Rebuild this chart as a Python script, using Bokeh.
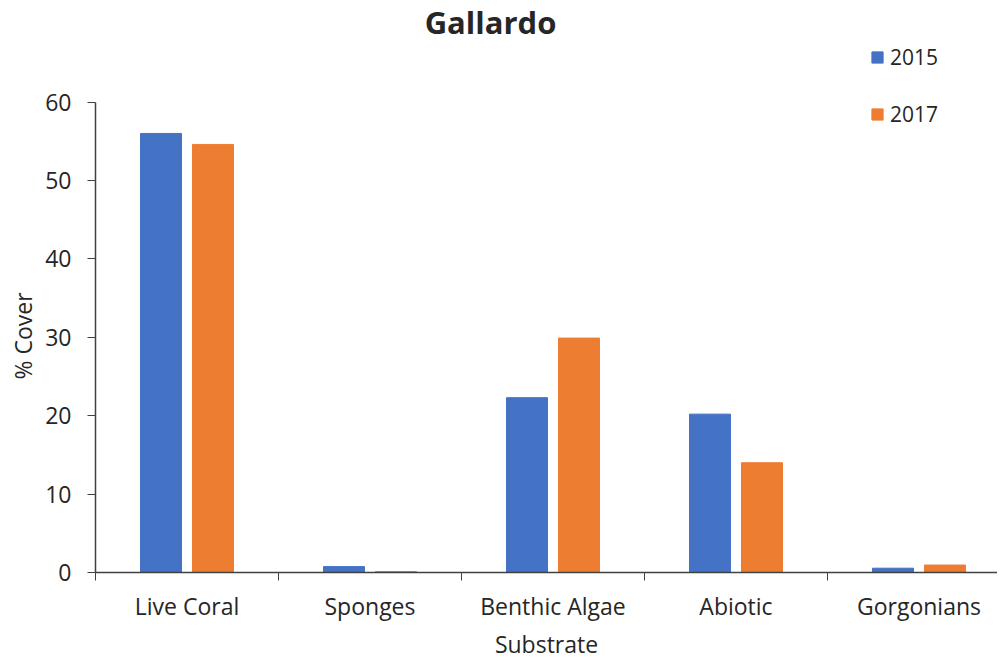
import numpy as np
from bokeh.plotting import figure
from bokeh.models import (ColumnDataSource, Range1d, FixedTicker, Legend, LegendItem, Label, Title)
from bokeh.embed import file_html
from bokeh.resources import INLINE

# ---- data ----
title = "Gallardo"
categories = ["Live Coral", "Sponges", "Benthic Algae", "Abiotic", "Gorgonians"]
years = ["2015", "2017"]
cover_2015 = [56.0, 0.75, 22.3, 20.2, 0.55]
cover_2017 = [54.6, 0.12, 29.9, 14.0, 0.95]
y_ticks = [0, 10, 20, 30, 40, 50, 60]
x_title = "Substrate"
y_title = "% Cover"

FONT = "Open Sans"
TXT = "#262626"
BLUE = "#4472C4"
ORANGE = "#ED7D31"

idx = np.arange(len(categories))
centers = idx + 0.5
src = ColumnDataSource(dict(
    x15=centers - 0.142, x17=centers + 0.142,
    y15=cover_2015, y17=cover_2017, cat=categories))

# frame reaches to the top so title/legend sit inside it; axis drawn only 0..60
p = figure(width=997, height=662, output_backend="svg", toolbar_location=None,
           x_range=Range1d(0, 4.929), y_range=Range1d(0, 72.96),
           min_border_left=95, min_border_right=0, min_border_top=0,
           min_border_bottom=80, outline_line_color=None)

r15 = p.vbar(x="x15", top="y15", width=0.224, source=src, color=BLUE)
r17 = p.vbar(x="x17", top="y17", width=0.224, source=src, color=ORANGE)

p.grid.visible = False

# x axis: labels at centres, ticks at category boundaries
xa = p.xaxis[0]
xa.ticker = FixedTicker(ticks=list(centers), minor_ticks=list(np.arange(len(categories) + 1)))
xa.major_label_overrides = {float(c): n for c, n in zip(centers, categories)}
xa.major_tick_out = 0
xa.major_tick_in = 0
xa.minor_tick_out = 8
xa.minor_tick_in = 0
xa.minor_tick_line_color = "#404040"
xa.axis_line_color = "#404040"
xa.axis_line_width = 1.5
xa.major_label_standoff = 9
xa.axis_label = x_title
xa.axis_label_standoff = 3

ya = p.yaxis[0]
ya.ticker = FixedTicker(ticks=y_ticks)
ya.bounds = (0, 60)
ya.major_tick_out = 8
ya.major_tick_in = 0
ya.minor_tick_line_color = None
ya.major_tick_line_color = "#404040"
ya.axis_line_color = "#404040"
ya.axis_line_width = 1.5
ya.major_label_standoff = 16

for ax in (xa, ya):
    ax.major_label_text_font = FONT
    ax.major_label_text_font_size = "23px"
    ax.major_label_text_color = TXT
    ax.axis_label_text_font = FONT
    ax.axis_label_text_font_size = "23px"
    ax.axis_label_text_font_style = "normal"
    ax.axis_label_text_color = TXT

# y-axis title, centred on the 0..60 part of the axis
p.add_layout(Title(text=y_title, align="left", offset=193, standoff=8,
                   text_font=FONT, text_font_size="23px", text_font_style="normal",
                   text_color=TXT), "left")

p.add_layout(Label(x=395, y=551, x_units="screen", y_units="screen", text=title,
                   text_align="center", text_baseline="middle",
                   text_font=FONT, text_font_size="31px", text_font_style="bold",
                   text_color=TXT))

legend = Legend(items=[LegendItem(label=years[0], renderers=[r15]),
                       LegendItem(label=years[1], renderers=[r17])],
                location=(775, 444), margin=0, padding=0,
                glyph_width=14, glyph_height=14, label_height=20,
                spacing=29, label_standoff=6,
                label_text_font=FONT, label_text_font_size="21px",
                label_text_color=TXT,
                background_fill_alpha=0, border_line_color=None)
p.add_layout(legend, "center")

open("out.html", "w").write(file_html(p, INLINE))
